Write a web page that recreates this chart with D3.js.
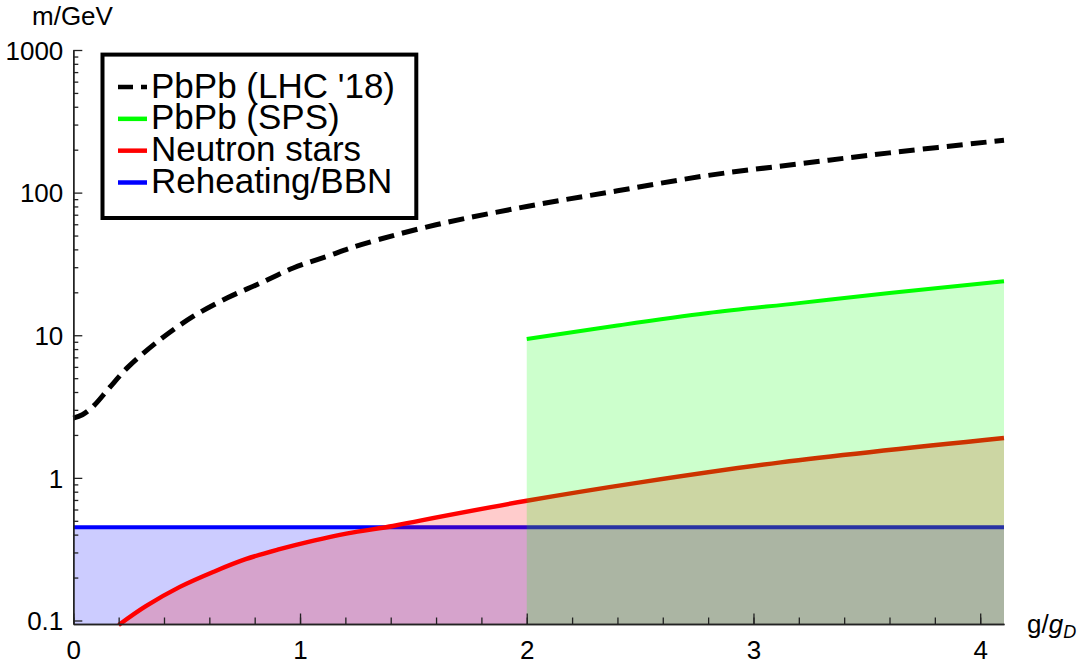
<!DOCTYPE html>
<html>
<head>
<meta charset="utf-8">
<script src="https://cdn.jsdelivr.net/npm/d3@7"></script>
<style>
  html, body { margin: 0; padding: 0; background: #fff; }
  svg { display: block; }
  text { font-family: "Liberation Sans", Arial, Helvetica, sans-serif; fill: #000; }
</style>
</head>
<body>
<svg id="chart" width="1087" height="666"></svg>
<script>
// Coupling g/g_D against mass bound m (GeV)

// PbPb at the LHC (2018 run), dashed curve
const gLHC = [0, 0.04, 0.09, 0.16, 0.24, 0.38, 0.53, 0.68, 0.82, 0.97, 1.12, 1.27, 1.6, 2.0, 2.4, 2.8, 3.2, 3.6, 4.105];
const mLHC = [2.62, 2.77, 3.2, 4.3, 5.95, 9.25, 13.6, 18.3, 23.0, 29.6, 35.8, 43.2, 59.5, 80, 103, 132, 159, 190, 233];

// PbPb at the SPS
const gSPS = [2.0, 2.4, 2.8, 3.2, 3.6, 4.105];
const mSPS = [9.4, 11.7, 14.3, 16.8, 19.8, 23.9];

// Neutron stars
const gNS = [0.2, 0.32, 0.47, 0.62, 0.76, 0.91, 1.06, 1.21, 1.41, 1.53, 2.0, 2.5, 3.12, 4.105];
const mNS = [0.093, 0.126, 0.172, 0.220, 0.269, 0.316, 0.363, 0.408, 0.46, 0.502, 0.691, 0.93, 1.284, 1.903];

// Reheating / BBN
const gBBN = [0, 4.105];
const mBBN = [0.45, 0.45];

// Axis ticks
const xTicks = [0, 1, 2, 3, 4];
const xMinorTicks = d3.range(0, 4.1, 0.2);
const yTicks = [0.1, 1, 10, 100, 1000];
const yTickLabels = ["0.1", "1", "10", "100", "1000"];

const legendNames = ["PbPb (LHC '18)", "PbPb (SPS)", "Neutron stars", "Reheating/BBN"];
const legendColors = ["#000000", "#00ff00", "#ff0000", "#0000ff"];

const svg = d3.select("#chart");

const x = d3.scaleLinear().domain([0, 4.105]).range([73.3, 1004]);
const y = d3.scaleLog().domain([0.0945, 1000]).range([624, 50]);

const zip = (gs, ms) => gs.map((g, i) => ({ g, m: ms[i] }));

const curve = d3.curveCatmullRom.alpha(0.5);
const line = d3.line().x(d => x(d.g)).y(d => y(d.m)).curve(curve);
const area = d3.area().x(d => x(d.g)).y0(y.range()[0]).y1(d => Math.min(y(d.m), y.range()[0])).curve(curve);

// Bands filled down to the axis, each followed by its boundary line
const bands = [
  { data: zip(gBBN, mBBN), color: "#0000ff", width: 4 },
  { data: zip(gNS, mNS), color: "#ff0000", width: 4.4 },
  { data: zip(gSPS, mSPS), color: "#00ff00", width: 4 }
];

const plot = svg.append("g");
bands.forEach(b => {
  plot.append("path").attr("d", area(b.data))
    .attr("fill", b.color).attr("fill-opacity", 0.2).attr("stroke", "none");
  plot.append("path").attr("d", line(b.data))
    .attr("fill", "none").attr("stroke", b.color).attr("stroke-width", b.width)
    .attr("stroke-linejoin", "round");
});

plot.append("path").attr("d", line(zip(gLHC, mLHC)))
  .attr("fill", "none").attr("stroke", "#000").attr("stroke-width", 5)
  .attr("stroke-dasharray", "16,8");

// Axes with inward ticks
const axisColor = "#222";

const xMinor = svg.append("g").attr("transform", `translate(0,${y.range()[0]})`)
  .call(d3.axisBottom(x).tickValues(xMinorTicks).tickSize(-6.5).tickSizeOuter(0).tickFormat(""));
const xMajor = svg.append("g").attr("transform", `translate(0,${y.range()[0]})`)
  .call(d3.axisBottom(x).tickValues(xTicks).tickSize(-10.5).tickSizeOuter(0).tickPadding(17)
    .tickFormat(d3.format("d")));

const yMinorVals = [];
[0.1, 1, 10, 100].forEach(dec => { for (let k = 2; k <= 9; k++) yMinorVals.push(dec * k); });
const yMinor = svg.append("g").attr("transform", `translate(${x.range()[0]},0)`)
  .call(d3.axisLeft(y).tickValues(yMinorVals).tickSize(-5).tickSizeOuter(0).tickFormat(""));
const yMajor = svg.append("g").attr("transform", `translate(${x.range()[0]},0)`)
  .call(d3.axisLeft(y).tickValues(yTicks).tickSize(-9).tickSizeOuter(0).tickPadding(10)
    .tickFormat((d, i) => yTickLabels[i]));

[xMinor, xMajor, yMinor, yMajor].forEach(a => {
  a.selectAll("path.domain").attr("stroke", axisColor).attr("stroke-width", 1.4);
  a.selectAll(".tick line").attr("stroke", axisColor).attr("stroke-width", 1.3);
  a.selectAll(".tick text").attr("font-size", 26).attr("fill", "#000")
    .attr("font-family", "'Liberation Sans', Arial, sans-serif");
});
yMajor.selectAll(".tick text").attr("dy", "0.36em");

// Axis titles
svg.append("text").attr("x", 32).attr("y", 25).attr("font-size", 26).text("m/GeV");
const xt = svg.append("text").attr("x", 1027).attr("y", 633).attr("font-size", 26);
xt.append("tspan").text("g/");
xt.append("tspan").attr("font-style", "italic").text("g");
xt.append("tspan").attr("font-style", "italic").attr("font-size", 18).attr("dy", 5).text("D");

// Legend
const lg = svg.append("g");
lg.append("rect").attr("x", 102.5).attr("y", 54.6).attr("width", 313.8).attr("height", 163.4)
  .attr("fill", "#fff").attr("stroke", "#000").attr("stroke-width", 4);
const rowY = d3.scaleLinear().domain([0, 3]).range([87, 182.5]);
legendNames.forEach((name, i) => {
  const cy = rowY(i);
  lg.append("line").attr("x1", 118).attr("x2", 147).attr("y1", cy).attr("y2", cy)
    .attr("stroke", legendColors[i]).attr("stroke-width", 4.5)
    .attr("stroke-dasharray", i === 0 ? "15,8" : null);
  lg.append("text").attr("x", 151).attr("y", cy + 10.5).attr("font-size", 35).text(name);
});
</script>
</body>
</html>
